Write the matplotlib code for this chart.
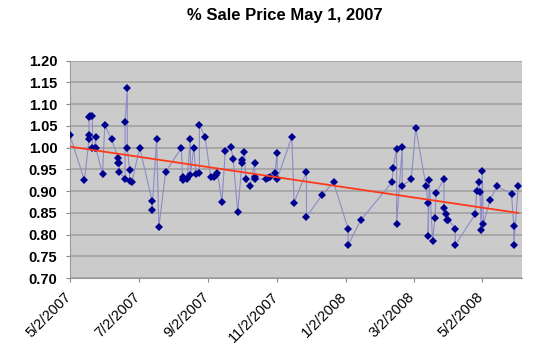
#!/usr/bin/env python3
"""% Sale Price May 1, 2007 -- Excel-style dated scatter with linear trendline."""

from datetime import date, timedelta

import matplotlib
matplotlib.use("Agg")
import matplotlib.dates as mdates
import matplotlib.pyplot as plt
import matplotlib.transforms as mtransforms
import numpy as np
from matplotlib.ticker import FuncFormatter, MultipleLocator

# Sale dates as day offsets from 5/2/2007, and % of list price
START = date(2007, 5, 2)
day_offsets = [
    0, 13, 17, 17, 17, 18, 20, 20, 22, 23, 23, 29, 31, 37, 43, 43, 44, 44,
    49, 49, 51, 51, 53, 53, 55, 62, 73, 73, 77, 79, 85, 99, 100, 100, 100,
    104, 107, 107, 110, 112, 115, 115, 120, 125, 128, 130, 131, 135, 138,
    143, 145, 149, 153, 153, 155, 156, 160, 164, 164, 164, 174, 176, 178,
    182, 184, 184, 197, 199, 210, 210, 224, 234, 247, 247, 258, 286, 287,
    290, 290, 295, 295, 303, 307, 316, 318, 318, 319, 322, 324, 325, 332,
    332, 334, 335, 336, 342, 342, 360, 361, 363, 364, 365, 366, 367, 373,
    379, 392, 394, 394, 398,
]
pct_sale = [
    1.029, 0.925, 1.020, 1.029, 1.070, 1.072, 1.074, 1.000, 1.000, 1.025,
    1.000, 0.939, 1.052, 1.019, 0.976, 0.966, 0.966, 0.945, 0.928, 1.060,
    1.137, 1.000, 0.949, 0.924, 0.921, 1.000, 0.878, 0.857, 1.019, 0.817,
    0.944, 1.000, 0.928, 0.932, 0.926, 0.929, 1.019, 0.937, 1.000, 0.940,
    0.941, 1.052, 1.025, 0.932, 0.933, 0.937, 0.941, 0.876, 0.993, 1.001,
    0.973, 0.852, 0.972, 0.966, 0.991, 0.927, 0.913, 0.966, 0.933, 0.928,
    0.928, 0.930, 0.933, 0.941, 0.989, 0.928, 1.025, 0.874, 0.944, 0.841,
    0.892, 0.921, 0.813, 0.776, 0.833, 0.921, 0.954, 0.997, 0.825, 1.001,
    0.913, 0.927, 1.046, 0.913, 0.872, 0.798, 0.925, 0.786, 0.838, 0.897,
    0.927, 0.861, 0.848, 0.835, 0.835, 0.813, 0.776, 0.848, 0.901, 0.921,
    0.898, 0.811, 0.946, 0.825, 0.880, 0.911, 0.894, 0.820, 0.776, 0.913,
]
TITLE = "% Sale Price May 1, 2007"
X_MIN = date(2007, 5, 2)
X_MAX = date(2008, 6, 6)


def main() -> None:
    dates = [START + timedelta(days=d) for d in day_offsets]
    x = mdates.date2num(dates)
    y = np.asarray(pct_sale)

    plt.rcParams["font.family"] = ["Liberation Sans", "DejaVu Sans"]
    fig = plt.figure(figsize=(5.5, 3.5), dpi=100)
    ax = fig.add_axes([0.127, 0.205, 0.8215, 0.6216])
    ax.set_facecolor("#cbcbcb")

    # Data series: thin connecting line + navy diamonds
    ax.plot(x, y, "-", color="#8c8cc8", linewidth=0.8, zorder=3)
    ax.plot(x, y, "D", color="#000090", markersize=3.8, zorder=4,
            markeredgewidth=0)

    # Linear trendline
    k, b = np.polyfit(x, y, 1)
    xt = np.array([x.min(), x.max()])
    ax.plot(xt, k * xt + b, "-", color="#ff3a1a", linewidth=1.3, zorder=5)

    ax.set_ylim(0.70, 1.20)
    ax.yaxis.set_major_locator(MultipleLocator(0.05))
    ax.yaxis.set_major_formatter(FuncFormatter(lambda v, _: f"{v:.2f}"))
    ax.grid(axis="y", color="#a2a2a2", linewidth=1.2, zorder=1)
    ax.set_axisbelow(True)

    ax.set_xlim(mdates.date2num(X_MIN), mdates.date2num(X_MAX))
    ax.xaxis.set_major_locator(
        mdates.MonthLocator(bymonth=[1, 3, 5, 7, 9, 11], bymonthday=2))
    ax.xaxis.set_major_formatter(FuncFormatter(
        lambda v, _: "{d.month}/{d.day}/{d.year}".format(
            d=mdates.num2date(v))))

    for lbl in ax.get_yticklabels():
        lbl.set_fontweight("bold")
    ax.tick_params(axis="y", labelsize=10.5, length=3, color="#888888",
                   pad=6)
    ax.tick_params(axis="x", labelsize=10.5, length=3, color="#888888",
                   pad=5)
    # Excel puts the rotated label end a little left of the tick
    shift = mtransforms.ScaledTranslation(-6 / 100, 0, fig.dpi_scale_trans)
    for lbl in ax.get_xticklabels():
        lbl.set_rotation(45)
        lbl.set_ha("right")
        lbl.set_rotation_mode("anchor")
        lbl.set_transform(lbl.get_transform() + shift)

    for side in ("top", "right"):
        ax.spines[side].set_visible(False)
    for side in ("left", "bottom"):
        ax.spines[side].set_color("#999999")
        ax.spines[side].set_linewidth(0.8)

    fig.text(0.518, 0.955, TITLE, ha="center", va="center",
             fontsize=12, fontweight="bold")

    fig.savefig("out.png", dpi=100)
    plt.close(fig)


if __name__ == "__main__":
    main()
